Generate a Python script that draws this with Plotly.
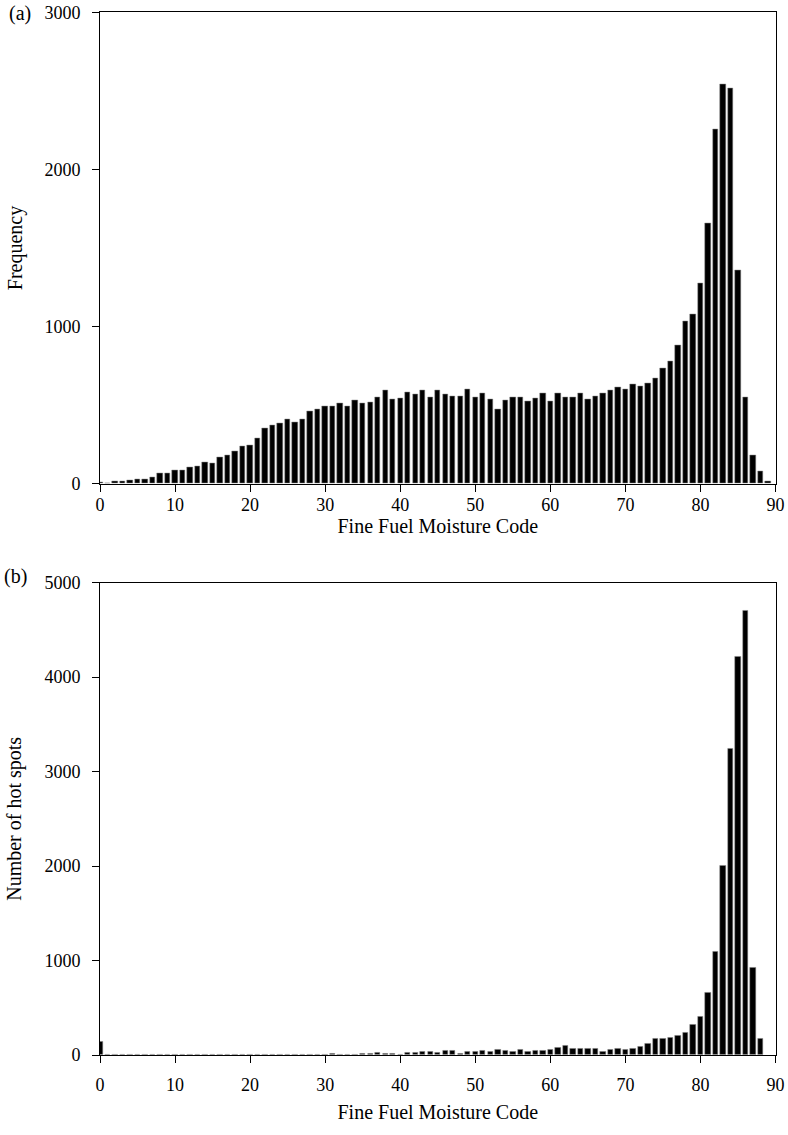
import plotly.graph_objects as go

# Panel (a): frequency of FFMC values (bins 0..89)
ffmc_a = list(range(0, 90))
freq_a = [8, 5, 13, 13, 19, 25, 28, 40, 68, 68,
          83, 87, 106, 113, 138, 132, 170, 178, 204, 236,
          246, 289, 355, 372, 386, 412, 391, 408, 463, 476,
          493, 493, 512, 495, 533, 510, 516, 552, 594, 539,
          541, 582, 569, 597, 550, 597, 569, 558, 554, 603,
          552, 575, 539, 476, 533, 548, 548, 527, 544, 575,
          522, 575, 550, 552, 573, 535, 558, 573, 592, 616,
          599, 633, 622, 639, 671, 737, 777, 883, 1034, 1076,
          1278, 1658, 2255, 2539, 2518, 1355, 550, 180, 81, 13]

# Panel (b): number of hot spots by FFMC (bins 0..88)
ffmc_b = list(range(0, 89))
hot_b = [140, 0, 0, 0, 0, 0, 0, 0, 0, 0,
         0, 0, 0, 0, 0, 0, 0, 0, 0, 0,
         0, 0, 0, 0, 0, 0, 0, 0, 0, 0,
         3, 10, 4, 4, 7, 10, 14, 25, 10, 10,
         7, 25, 25, 32, 35, 25, 42, 46, 14, 35,
         35, 50, 32, 60, 42, 39, 57, 35, 42, 42,
         57, 81, 95, 64, 67, 71, 67, 35, 53, 64,
         60, 71, 85, 117, 170, 170, 187, 205, 240, 318,
         403, 657, 1092, 2004, 3240, 4219, 4707, 929, 170]

x_ticks = [0, 10, 20, 30, 40, 50, 60, 70, 80, 90]
y_ticks_a = [0, 1000, 2000, 3000]
y_ticks_b = [0, 1000, 2000, 3000, 4000, 5000]

W, H = 788, 1135
FONT = "Liberation Serif"


def px(x):
    return x / W


def py(y):
    return 1 - y / H


fig = go.Figure()
fig.add_trace(go.Bar(x=ffmc_a, y=freq_a, width=0.72,
                     marker=dict(color="black", line=dict(color="#888", width=0.5)),
                     xaxis="x", yaxis="y", showlegend=False))
fig.add_trace(go.Bar(x=ffmc_b, y=hot_b, width=0.72,
                     marker=dict(color="black", line=dict(color="#888", width=0.5)),
                     xaxis="x2", yaxis="y2", showlegend=False))

xd = [px(100), px(775.5)]
ya = [py(483.7), py(12.3)]
yb = [py(1055), py(582.7)]

axis_common = dict(showline=True, linecolor="black", linewidth=1, mirror=True, ticks="outside",
                   ticklen=7, tickcolor="black", tickwidth=1, showgrid=False, zeroline=False,
                   automargin=False, ticklabeloverflow="allow",
                   tickfont=dict(family=FONT, size=18, color="black"))

TF = dict(family=FONT, size=20, color="black")

fig.update_layout(
    template="none",
    width=W, height=H, margin=dict(l=0, r=0, t=0, b=0),
    plot_bgcolor="white", paper_bgcolor="white", bargap=0,
    font=dict(family=FONT, color="black"),
    xaxis=dict(domain=xd, anchor="y", range=[0, 90], tickvals=x_ticks, ticklabelstandoff=-2,
               title=dict(text="Fine Fuel Moisture Code", font=TF, standoff=2),
               **axis_common),
    yaxis=dict(domain=ya, anchor="x", range=[0, 3000], tickvals=y_ticks_a, ticklabelstandoff=8,
               title=dict(text="Frequency", font=TF, standoff=16),
               **axis_common),
    xaxis2=dict(domain=xd, anchor="y2", range=[0, 90], tickvals=x_ticks, ticklabelstandoff=6,
                title=dict(text="Fine Fuel Moisture Code", font=TF, standoff=11),
                **axis_common),
    yaxis2=dict(domain=yb, anchor="x2", range=[0, 5000], tickvals=y_ticks_b, ticklabelstandoff=8,
                title=dict(text="Number of hot spots", font=TF, standoff=17),
                **axis_common),
    annotations=[
        dict(text="(a)", x=px(7), y=py(13), xref="paper", yref="paper", xanchor="left", yanchor="middle",
             showarrow=False, font=TF),
        dict(text="(b)", x=px(2), y=py(576), xref="paper", yref="paper", xanchor="left", yanchor="middle",
             showarrow=False, font=TF),
    ],
)

# remove the browser's default 8px body margin so the figure sits at the window origin
fig.write_html("out.html", config={"displayModeBar": False},
               post_script="document.body.style.margin='0';document.body.style.overflow='hidden';")
